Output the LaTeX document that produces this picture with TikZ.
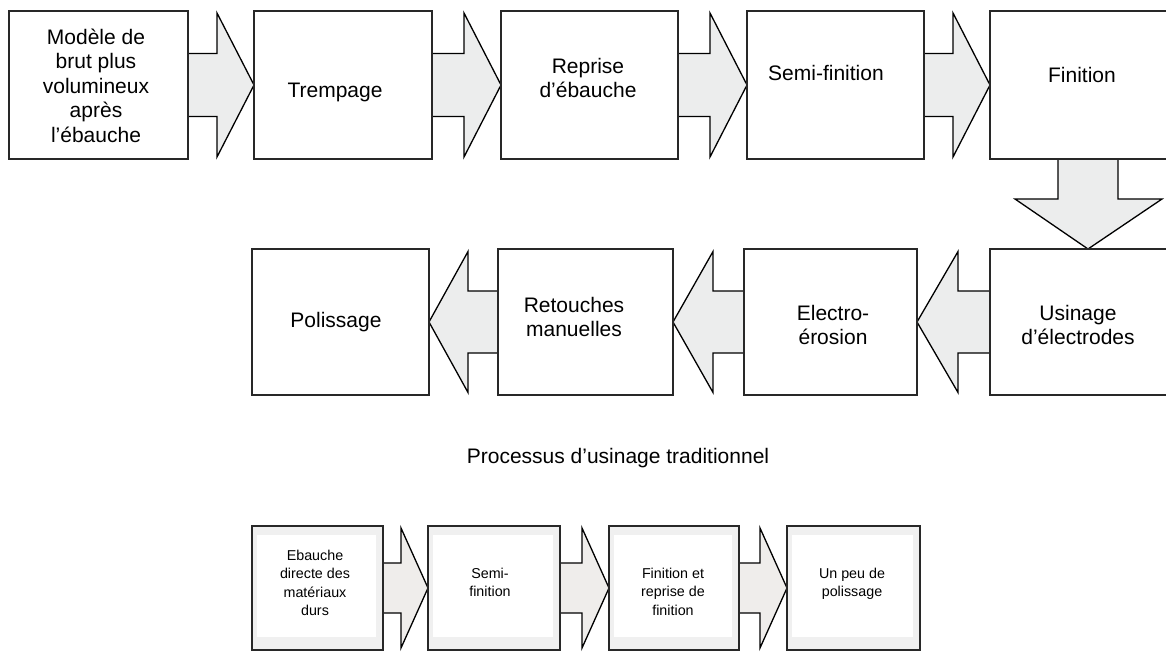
\documentclass[tikz,border=0pt]{standalone}
\usepackage{fontspec}
\setmainfont{Liberation Sans}
\usetikzlibrary{calc,backgrounds}
\definecolor{arrowgray}{RGB}{236,237,237}
\definecolor{arrowwarm}{RGB}{239,237,235}
\definecolor{boxline}{RGB}{40,40,40}
\definecolor{bandgray}{RGB}{240,240,240}
\newcommand\stk[1]{\vtop{\halign{\hfil##\hfil\cr#1\crcr}}}
\newcommand\blkR[6]{\draw[blk,fill=#6] ($(#1.east)+(0,-#3)$) -- ($(#2.west)+(-#4,-#3)$) -- ($(#2.west)+(-#4,-#5)$) -- (#2.west) -- ($(#2.west)+(-#4,#5)$) -- ($(#2.west)+(-#4,#3)$) -- ($(#1.east)+(0,#3)$) -- cycle;}
\newcommand\blkL[5]{\draw[blk] ($(#1.west)+(0,-#3)$) -- ($(#2.east)+(#4,-#3)$) -- ($(#2.east)+(#4,-#5)$) -- (#2.east) -- ($(#2.east)+(#4,#5)$) -- ($(#2.east)+(#4,#3)$) -- ($(#1.west)+(0,#3)$) -- cycle;}
\newcommand\bandbox[1]{\fill[white] ($(#1.north west)+(5,9)$) rectangle ($(#1.south east)+(-7,-13)$);}
\begin{document}
\begin{tikzpicture}[x=1pt,y=-1pt,
  box/.style={draw=boxline, line width=2pt, fill=white, inner sep=0pt, outer sep=0pt},
  sbox/.style={box, fill=bandgray, minimum height=124pt},
  tbox/.style={box, minimum height=148pt},
  mbox/.style={box, minimum height=146pt},
  blk/.style={draw=black, line width=1.3pt, fill=arrowgray, line join=miter},
  big/.style={font=\fontsize{21}{24.5}\selectfont, anchor=base, inner sep=0pt},
  small/.style={font=\fontsize{14.3}{18.5}\selectfont, anchor=base, inner sep=0pt}]
\useasboundingbox (0,0) rectangle (1166,653);
% top row
\node[tbox, minimum width=179pt] (b1) at (98.5,85) {};
\node[tbox, minimum width=178pt] (b2) at (343,85) {};
\node[tbox, minimum width=177pt] (b3) at (589.5,85) {};
\node[tbox, minimum width=177pt] (b4) at (835.5,85) {};
\node[tbox, minimum width=180pt] (b5) at (1080,85) {};
% middle row
\node[mbox, minimum width=177pt] (r1) at (340.5,322) {};
\node[mbox, minimum width=175pt] (r2) at (585.5,322) {};
\node[mbox, minimum width=173pt] (r3) at (830.5,322) {};
\node[mbox, minimum width=180pt] (r4) at (1080,322) {};
% bottom row
\node[sbox, minimum width=131pt] (s1) at (317.5,588) {};
\node[sbox, minimum width=132pt] (s2) at (494,588) {};
\node[sbox, minimum width=130pt] (s3) at (674,588) {};
\node[sbox, minimum width=133pt] (s4) at (853.5,588) {};
\bandbox{s1}\bandbox{s2}\bandbox{s3}\bandbox{s4}
\begin{scope}[on background layer]
\blkR{b1}{b2}{31.5}{37}{72}{arrowgray}
\blkR{b2}{b3}{31.5}{37}{72}{arrowgray}
\blkR{b3}{b4}{31.5}{37}{72}{arrowgray}
\blkR{b4}{b5}{31.5}{37}{72}{arrowgray}
\blkL{r2}{r1}{31}{39}{70.5}
\blkL{r3}{r2}{31}{40}{70.5}
\blkL{r4}{r3}{31}{41}{70.5}
\blkR{s1}{s2}{25}{27}{60}{arrowwarm}
\blkR{s2}{s3}{25}{27}{60}{arrowwarm}
\blkR{s3}{s4}{25}{27}{60}{arrowwarm}
\draw[blk] ($(b5.south)+(-22,0)$) -- ($(r4.north)+(-22,-50)$) -- ($(r4.north)+(-65,-50)$) -- ($(r4.north)+(8,0)$) -- ($(r4.north)+(82,-50)$) -- ($(r4.north)+(38,-50)$) -- ($(b5.south)+(38,0)$) -- cycle;
\end{scope}
% texts
\node[big] (t1) at (96,44) {\stk{Modèle de\cr brut plus\cr volumineux\cr après\cr l’ébauche}};
\node[big] (t2) at (335,97) {Trempage};
\node[big] (t3) at (588,73) {\stk{Reprise\cr d’ébauche}};
\node[big] (t4) at (826,80) {Semi-finition};
\node[big] (t5) at (1082,82) {Finition};
\node[big] (u1) at (336,327) {Polissage};
\node[big] (u2) at (574,312) {\stk{Retouches\cr manuelles}};
\node[big] (u3) at (833,320) {\stk{Electro-\cr érosion}};
\node[big] (u4) at (1078,320) {\stk{Usinage\cr d’électrodes}};
\node[big] (cap) at (618,463) {Processus d’usinage traditionnel};
\node[small] (v1) at (315,560) {\stk{Ebauche\cr directe des\cr matériaux\cr durs}};
\node[small] (v2) at (490,578) {\stk{Semi-\cr finition}};
\node[small] (v3) at (673,578) {\stk{Finition et\cr reprise de\cr finition}};
\node[small] (v4) at (852,578) {\stk{Un peu de\cr polissage}};
\end{tikzpicture}
\end{document}
